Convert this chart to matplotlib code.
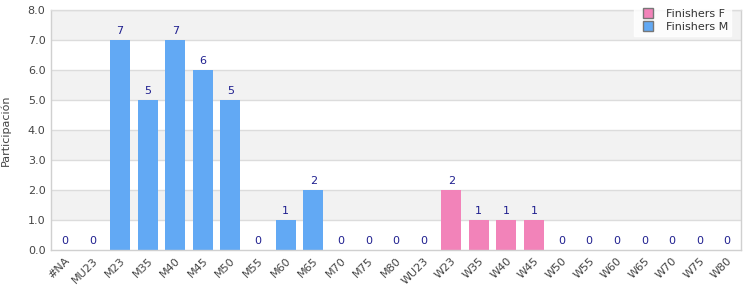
import matplotlib
matplotlib.use("Agg")
import matplotlib.pyplot as plt
import numpy as np
from matplotlib.lines import Line2D

categories = ["#NA", "MU23", "M23", "M35", "M40", "M45", "M50", "M55", "M60", "M65",
              "M70", "M75", "M80", "WU23", "W23", "W35", "W40", "W45", "W50", "W55",
              "W60", "W65", "W70", "W75", "W80"]
finishers_m = [0, 0, 7, 5, 7, 6, 5, 0, 1, 2, 0, 0, 0, 0, 0, 0, 0, 0, 0, 0, 0, 0, 0, 0, 0]
finishers_f = [0, 0, 0, 0, 0, 0, 0, 0, 0, 0, 0, 0, 0, 0, 2, 1, 1, 1, 0, 0, 0, 0, 0, 0, 0]
yticks = [0, 1, 2, 3, 4, 5, 6, 7, 8]

col_m = "#62a9f4"
col_f = "#f283b9"
lab_col = "#1f1f8f"

fig = plt.figure(figsize=(7.5, 3), dpi=100)
ax = fig.add_axes([51/750, 50/300, 690/750, 240/300])

x = np.arange(len(categories))
m = np.array(finishers_m)
f = np.array(finishers_f)

ax.set_xlim(-0.5, len(categories) - 0.5)
ax.set_ylim(0, 8)

# alternating bands
for i in range(8):
    if i % 2 == 1:
        ax.axhspan(i, i + 1, color="#f2f2f2", zorder=0, lw=0)
for t in yticks[1:]:
    ax.axhline(t, color="#dcdcdc", lw=1, zorder=1)

w = 0.72
ax.bar(x, m, width=w, color=col_m, zorder=2)
ax.bar(x, f, width=w, bottom=m, color=col_f, zorder=2)

tot = m + f
for xi, v in zip(x, tot):
    ax.text(xi, v + 0.12, str(int(v)), ha="center", va="bottom", fontsize=8,
            color=lab_col, zorder=3)

ax.set_yticks(yticks)
ax.set_yticklabels([f"{v:.1f}" for v in yticks], fontsize=8, color="#444444")
ax.set_xticks(x)
ax.set_xticklabels(categories, rotation=45, ha="right", rotation_mode="anchor",
                   fontsize=8, color="#444444")
ax.tick_params(axis="both", length=0, pad=4)
ax.set_ylabel("Participación", fontsize=8, color="#444444", labelpad=12)

for s in ["left", "bottom", "right", "top"]:
    ax.spines[s].set_color("#d0d0d0")
    ax.spines[s].set_linewidth(1)
ax.spines["top"].set_color("#dcdcdc")

handles = [Line2D([0], [0], marker="s", linestyle="none", markersize=7,
                  markerfacecolor=col_f, markeredgecolor="#777777", label="Finishers F"),
           Line2D([0], [0], marker="s", linestyle="none", markersize=7,
                  markerfacecolor=col_m, markeredgecolor="#777777", label="Finishers M")]
leg = fig.legend(handles=handles, loc="upper right", bbox_to_anchor=(737/750, 1.0),
                 frameon=True, fontsize=8, handletextpad=0.6, borderpad=0.3,
                 labelspacing=0.3, fancybox=False)
leg.get_frame().set_facecolor("white")
leg.get_frame().set_edgecolor("white")
for t in leg.get_texts():
    t.set_color("#333333")

fig.savefig("out.png", dpi=100)
